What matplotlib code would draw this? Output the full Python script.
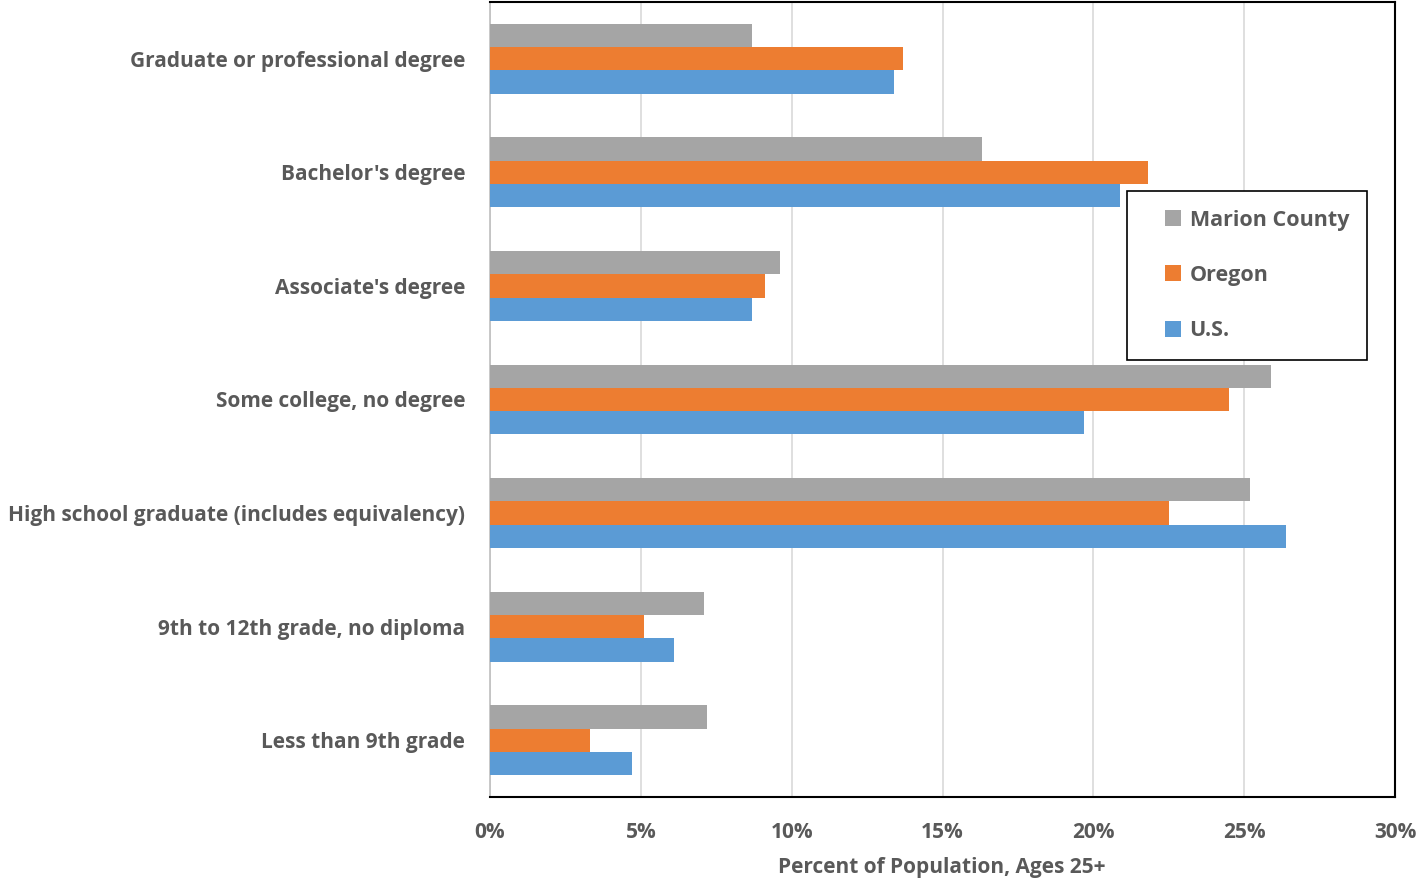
import numpy as np
import matplotlib.pyplot as plt
from matplotlib.lines import Line2D
from matplotlib.ticker import FuncFormatter

categories = ["Graduate or professional degree", "Bachelor's degree", "Associate's degree",
              "Some college, no degree", "High school graduate (includes equivalency)",
              "9th to 12th grade, no diploma", "Less than 9th grade"]
marion = [8.7, 16.3, 9.6, 25.9, 25.2, 7.1, 7.2]
oregon = [13.7, 21.8, 9.1, 24.5, 22.5, 5.1, 3.3]
us = [13.4, 20.9, 8.7, 19.7, 26.4, 6.1, 4.7]
series_names = ["Marion County", "Oregon", "U.S."]
colors = ["#A5A5A5", "#ED7D31", "#5B9BD5"]

plt.rcParams['font.family'] = ['Open Sans', 'DejaVu Sans']
txt = "#595959"

fig = plt.figure(figsize=(14.21, 8.81), dpi=100)
ax = fig.add_axes([490 / 1421, 1 - 797 / 881, 905 / 1421, 795 / 881])

y = np.arange(len(categories))[::-1]
h = 0.205
for i, (vals, name, c) in enumerate(zip([marion, oregon, us], series_names, colors)):
    ax.barh(y + (1 - i) * h, vals, height=h, color=c, label=name, zorder=3)

ax.set_xlim(0, 30)
ax.set_ylim(-0.5, len(categories) - 0.5)
ax.set_xticks(np.arange(0, 31, 5))
ax.xaxis.set_major_formatter(FuncFormatter(lambda v, p: f"{v:.0f}%"))
ax.set_yticks(y)
ax.set_yticklabels(categories)
ax.grid(axis='x', color='#D9D9D9', linewidth=1.2, zorder=0)
ax.tick_params(length=0, labelsize=15, labelcolor=txt)
ax.tick_params(axis='x', pad=18)
ax.tick_params(axis='y', pad=18)
for lab in ax.get_xticklabels() + ax.get_yticklabels():
    lab.set_fontweight('bold')

for s in ['top', 'right', 'bottom']:
    ax.spines[s].set_color('black')
    ax.spines[s].set_linewidth(1.5)
ax.spines['left'].set_color('#BFBFBF')
ax.spines['left'].set_linewidth(1.2)

ax.set_xlabel("Percent of Population, Ages 25+", fontsize=15, fontweight='bold', color=txt,
              va='center')
ax.xaxis.set_label_coords(0.499, -0.0893)

handles = [Line2D([], [], marker='s', linestyle='none', markersize=11, color=c,
                  markeredgewidth=0) for c in colors]
leg = ax.legend(handles, series_names, loc='upper left', bbox_to_anchor=(0.704, 0.762),
                frameon=True, fancybox=False, edgecolor='black', framealpha=1,
                prop={'size': 15.5, 'weight': 'bold'}, handlelength=2.6, handletextpad=-0.55,
                labelspacing=1.6, borderpad=0.85, borderaxespad=0)
leg.get_frame().set_linewidth(1.2)
for t in leg.get_texts():
    t.set_color(txt)

fig.savefig("out.png", dpi=100)
